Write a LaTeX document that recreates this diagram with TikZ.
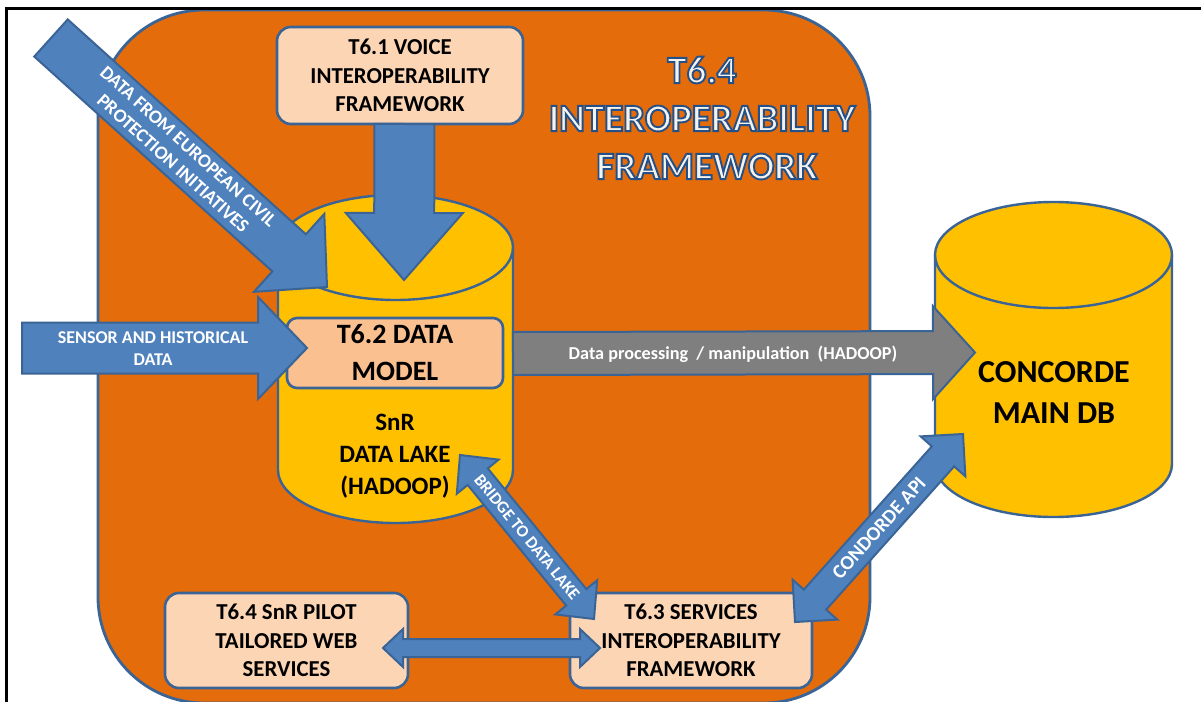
\documentclass[tikz,border=0pt]{standalone}
\usepackage{fontspec}
\setmainfont{Carlito}
\usetikzlibrary{calc}
\definecolor{orng}{HTML}{E46C0A}
\definecolor{bline}{HTML}{3A6496}
\definecolor{ablue}{HTML}{4F81BD}
\definecolor{cylfill}{HTML}{FFC000}
\definecolor{peach}{HTML}{FCD5B5}
\definecolor{peachdk}{HTML}{FAC090}
\definecolor{grayarr}{HTML}{7F7F7F}
\definecolor{titlefill}{HTML}{F4F2EA}
\newcommand\blockarrow[6]{%
  \coordinate (hb) at ($(#2)!#5!(#1)$);
  \filldraw[#6] ($(#1)!#3!90:(#2)$) -- ($(hb)!#3!90:(#2)$) -- ($(hb)!#4!90:(#2)$) -- (#2)
    -- ($(hb)!#4!-90:(#2)$) -- ($(hb)!#3!-90:(#2)$) -- ($(#1)!#3!-90:(#2)$) -- cycle;
}
\newcommand\dblarrow[6]{%
  \coordinate (ha) at ($(#1)!#5!(#2)$);
  \coordinate (hb) at ($(#2)!#5!(#1)$);
  \filldraw[#6] (#1) -- ($(ha)!#4!90:(#2)$) -- ($(ha)!#3!90:(#2)$) -- ($(hb)!#3!90:(#2)$)
    -- ($(hb)!#4!90:(#2)$) -- (#2) -- ($(hb)!#4!-90:(#2)$) -- ($(hb)!#3!-90:(#2)$)
    -- ($(ha)!#3!-90:(#2)$) -- ($(ha)!#4!-90:(#2)$) -- cycle;
}
\newcommand\outlinestart{\special{pdf:literal direct 2 Tr 0.95 w 0.141 0.314 0.541 RG}}
\newcommand\outlineend{\special{pdf:literal direct 0 Tr}}
\tikzset{
  arrowblue/.style={fill=ablue, draw=bline, line width=1pt, line join=miter},
  arrowgray/.style={fill=grayarr, draw=bline, line width=1pt, line join=miter},
  boxstyle/.style={draw=bline, line width=1.3pt, fill=peach, rounded corners=7pt, align=center,
    font=\bfseries\fontsize{11.4}{14.25}\selectfont, inner sep=0pt},
  cylstyle/.style={fill=cylfill, draw=bline, line width=1.2pt},
  atext/.style={text=white, align=center, inner sep=0pt},
  titlefont/.style={align=center, inner sep=0pt, font=\bfseries\fontsize{19.5}{24}\selectfont},
}
\begin{document}
\begin{tikzpicture}[x=0.5pt,y=-0.5pt]
\useasboundingbox (0,0) rectangle (1201,702);
\clip (0,0) rectangle (1201,702);
\fill[white] (0,0) rectangle (1201,702);
% orange frame
\node[fill=orng, draw=bline, line width=1.4pt, rounded corners=53pt, minimum width=386pt,
  minimum height=346.5pt, inner sep=0pt] (t64) at (484,356.5) {};
% black frame
\draw[line width=1.65pt] (6.7,702) -- (6.7,8.3) -- (1201,8.3);
% T6.1 box
\node[boxstyle, minimum width=123pt, minimum height=48.5pt] (t61) at (400,75.5)
  {T6.1 VOICE\\INTEROPERABILITY\\FRAMEWORK};
% left cylinder
\filldraw[cylstyle] (278,247.5) -- (278,470) arc[start angle=180,end angle=360,x radius=58.75pt,y radius=26.5pt]
  -- (513,247.5) arc[start angle=0,end angle=180,x radius=58.75pt,y radius=26.25pt] -- cycle;
\draw[cylstyle, fill=none] (278,247.5) arc[start angle=180,end angle=360,x radius=58.75pt,y radius=26.25pt];
\coordinate (lake) at (395.5,380);
% right cylinder
\filldraw[cylstyle] (935,255) -- (935,464) arc[start angle=180,end angle=360,x radius=59.25pt,y radius=26.5pt]
  -- (1172,255) arc[start angle=0,end angle=180,x radius=59.25pt,y radius=26.5pt] -- cycle;
\draw[cylstyle, fill=none] (935,255) arc[start angle=180,end angle=360,x radius=59.25pt,y radius=26.5pt];
\coordinate (maindb) at (1053.5,390);
% down arrow from T6.1
\coordinate (dS) at (404.5,124);
\coordinate (dT) at (404,280);
\blockarrow{dS}{dT}{15pt}{29.25pt}{33.5pt}{arrowblue}
% diagonal arrow
\coordinate (aS) at (51,38);
\coordinate (aT) at (327,287);
\blockarrow{aS}{aT}{12.5pt}{26.25pt}{25.5pt}{arrowblue}
\path (aS) -- (aT) node[pos=.47, sloped, atext, font=\bfseries\fontsize{9.5}{11.4}\selectfont] (atx)
  {DATA FROM EUROPEAN CIVIL\\PROTECTION INITIATIVES};
% T6.2 box
\node[boxstyle, fill=peachdk, rounded corners=5pt, minimum width=108pt, minimum height=35pt,
  font=\bfseries\fontsize{14}{18.5}\selectfont] (t62) at (395,353) {T6.2 DATA\\MODEL};
% sensor arrow
\coordinate (bS) at (22,348);
\coordinate (bT) at (307,348);
\blockarrow{bS}{bT}{12.75pt}{25.5pt}{24.5pt}{arrowblue}
\node[atext, font=\bfseries\fontsize{9}{11}\selectfont] (btx) at (153,349)
  {SENSOR AND HISTORICAL\\DATA};
% gray arrow
\coordinate (gS) at (513,353.5);
\coordinate (gT) at (975,352.5);
\blockarrow{gS}{gT}{10.75pt}{23.25pt}{21pt}{arrowgray}
\node[atext, font=\bfseries\fontsize{9.1}{11}\selectfont] (gtx) at (733,354)
  {Data processing~ / manipulation~ (HADOOP)};
% bottom boxes
\node[boxstyle, minimum width=121.5pt, minimum height=47.5pt] (pilot) at (286.5,640.5)
  {T6.4 SnR PILOT\\TAILORED WEB\\SERVICES};
\node[boxstyle, minimum width=121pt, minimum height=47.5pt] (t63) at (691,640.5)
  {T6.3 SERVICES\\INTEROPERABILITY\\FRAMEWORK};
% horizontal double arrow
\coordinate (hL) at (383,648);
\coordinate (hR) at (600,648);
\dblarrow{hL}{hR}{4.5pt}{9.5pt}{10pt}{arrowblue}
% bridge arrow
\coordinate (brA) at (460,455);
\coordinate (brB) at (594,619);
\dblarrow{brA}{brB}{6.5pt}{13.5pt}{14pt}{arrowblue}
\path (brA) -- (brB) node[pos=.5, sloped, atext, font=\bfseries\fontsize{8.5}{10}\selectfont] (brtx)
  {BRIDGE TO DATA LAKE};
% condorde api arrow
\coordinate (cA) at (795,622);
\coordinate (cB) at (963,434);
\dblarrow{cA}{cB}{7.5pt}{15pt}{15pt}{arrowblue}
\path (cA) -- (cB) node[pos=.5, sloped, atext, font=\bfseries\fontsize{10}{12}\selectfont] (ctx)
  {CONDORDE API};
% cylinder labels
\node[align=center, inner sep=0pt, font=\bfseries\fontsize{12.5}{16}\selectfont] (laketx) at (395,456.5)
  {SnR\\DATA LAKE\\(HADOOP)};
\node[align=center, inner sep=0pt, font=\bfseries\fontsize{16}{20.5}\selectfont] (dbtx) at (1054,392.5)
  {CONCORDE\\MAIN DB};
% title with outline
\node[titlefont, text=titlefill] (title) at (702,118)
  {\outlinestart T6.4\\\outlinestart INTEROPERABILITY\\\outlinestart\hspace*{5pt}FRAMEWORK\outlineend};
\end{tikzpicture}
\end{document}
